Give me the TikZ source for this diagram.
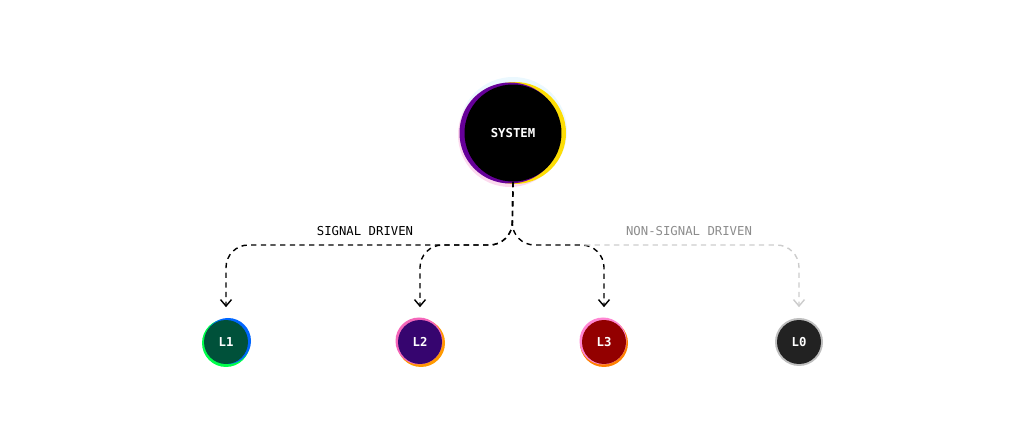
\documentclass[tikz,border=0pt]{standalone}
\usepackage{fontspec}
\setmonofont{DejaVu Sans Mono}
\usetikzlibrary{arrows.meta}
\definecolor{leafgreen}{HTML}{00513A}
\definecolor{leafpurple}{HTML}{36056F}
\definecolor{leafred}{HTML}{930000}
\definecolor{leafgray}{HTML}{222222}
\tikzset{
	% ------- every something
	every node/.style={
		font=\ttfamily\scriptsize,
	},
	% ------- custom
	system/.style={
		circle, fill=black, text=white, minimum size=1.94cm, inner sep=0pt,
		font=\ttfamily\bfseries\scriptsize,
	},
	level/.style={
		circle, text=white, minimum size=0.88cm, inner sep=0pt,
		font=\ttfamily\bfseries\scriptsize,
	},
	flow/.style={
		line width=0.8pt, dash pattern=on 3pt off 2.5pt,
		-{Straight Barb[length=1.3mm, width=2.2mm]},
		rounded corners=0.45cm,
	},
	faded/.style={
		flow, black!20,
	},
}

\begin{document}
\begin{tikzpicture}[x=0.02cm, y=-0.02cm, line width=0.4pt]

\useasboundingbox (0,0) rectangle (1024,445);

% glow rings %{{{2

	\fill[cyan!8] (513,131) circle (54);
	\fill[magenta!15] (510,135) circle (52);
	\fill[yellow!80!orange] (515,133) circle (51);
	\fill[violet!80!blue] (510,133) circle (50.5);

	\fill[green!70!cyan] (226,343) circle (24);
	\fill[blue!60!cyan] (228,341) circle (23);
	\fill[orange!80!yellow] (421,343) circle (24);
	\fill[magenta!60] (419,341) circle (23.5);
	\fill[orange] (604,343) circle (24);
	\fill[pink!70!magenta] (603,341) circle (23.5);
	\fill[gray!50] (799,342) circle (24);

% nodes %{{{2

	\node[system] (sys) at (513,133) {SYSTEM};

	\node[level, fill=leafgreen] (l1) at (226,342) {L1};
	\node[level, fill=leafpurple] (l2) at (420,342) {L2};
	\node[level, fill=leafred] (l3) at (604,342) {L3};
	\node[level, fill=leafgray] (l0) at (799,342) {L0};

% connectors %{{{2

	\coordinate (bend) at (512,245);
	\coordinate (grey) at (585,245);

	\draw[flow] (sys.south) -- (bend) -| ([yshift=0.25cm]l1.north);
	\draw[flow] (sys.south) -- (bend) -| ([yshift=0.25cm]l2.north);
	\draw[flow] (sys.south) -- (bend) -| ([yshift=0.25cm]l3.north);
	\draw[faded] (grey) -| ([yshift=0.25cm]l0.north);

% labels %{{{2

	\node (sig) at (365,231) {SIGNAL DRIVEN};
	\node[black!45] (nonsig) at (689,231) {NON-SIGNAL DRIVEN};

\end{tikzpicture}
\end{document}
